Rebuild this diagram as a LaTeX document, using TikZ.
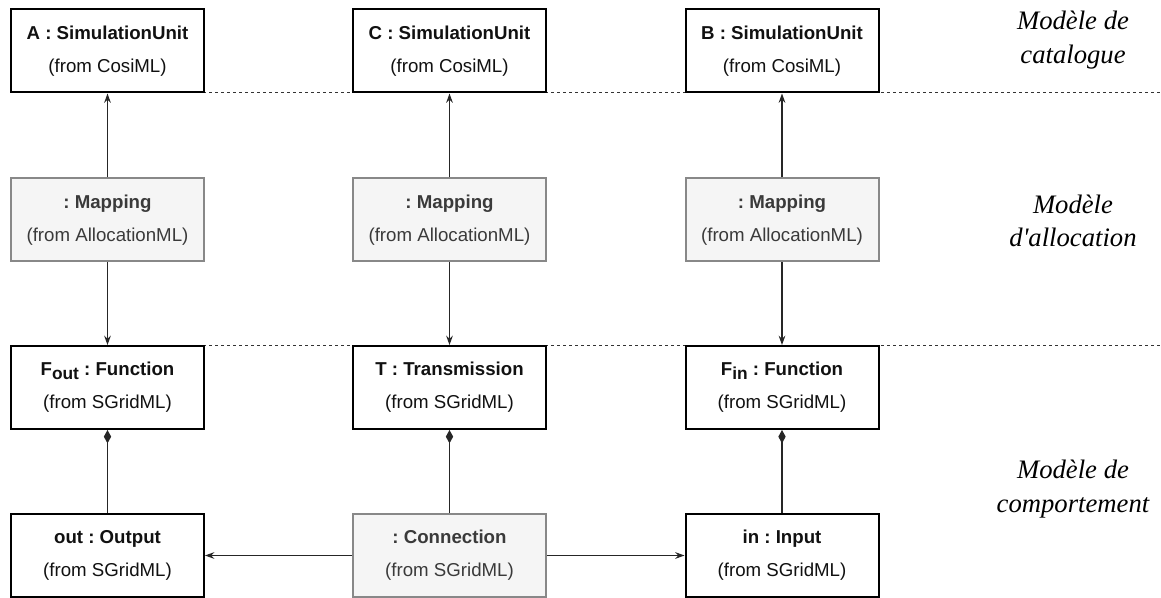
\documentclass[tikz,border=0pt]{standalone}
\usepackage{fontspec}
\setsansfont{Liberation Sans}
\newfontfamily\layerfont{Liberation Serif}
\usepackage{xcolor}
\usetikzlibrary{positioning, arrows.meta}
\definecolor{boxtext}{HTML}{111111}
\definecolor{mapfill}{HTML}{F5F5F5}
\definecolor{mapborder}{HTML}{888888}
\definecolor{maptext}{HTML}{3A3A3A}
\newcommand{\lowsub}[1]{\raisebox{-0.4ex}{\fontsize{13}{13}\selectfont #1}}
\frenchspacing

\begin{document}
\begin{tikzpicture}[x=0.75pt, y=-0.75pt,
    umlbox/.style={draw=black, line width=1.5pt, fill=white, text=boxtext,
      minimum width=144.75pt, minimum height=62.25pt, inner sep=0pt,
      align=center, font=\sffamily\fontsize{14}{24.75}\selectfont},
    greybox/.style={umlbox, draw=mapborder, fill=mapfill, text=maptext},
    link/.style={draw=black!85, line width=0.9pt, -{Stealth[length=7pt, width=5pt]}},
    partof/.style={draw=black!85, line width=0.9pt, -{Diamond[length=10pt, width=5.5pt]}},
    layersep/.style={draw=black!80, line width=0.6pt, dash pattern=on 2.5pt off 2pt},
    layername/.style={align=center, font=\layerfont\itshape\fontsize{20}{25}\selectfont}]
  \useasboundingbox[fill=white] (0,0) rectangle (1161,598);

  % layer borders
  \coordinate (sepAw) at (11,92);
  \coordinate (sepAe) at (1161,92);
  \coordinate (sepBw) at (11,345);
  \coordinate (sepBe) at (1161,345);
  \draw[layersep] (sepAw) -- (sepAe);
  \draw[layersep] (sepBw) -- (sepBe);

  % catalogue
  \node[umlbox] (unitA) at (107.5,51) {\textbf{A : SimulationUnit}\\(from CosiML)};
  \node[umlbox] (unitC) at (449.5,51) {\textbf{C : SimulationUnit}\\(from CosiML)};
  \node[umlbox] (unitB) at (782,51) {\textbf{B : SimulationUnit}\\(from CosiML)};

  % allocation
  \node[greybox] (mapA) at (107.5,220) {\textbf{: Mapping}\\(from AllocationML)};
  \node[greybox] (mapC) at (449.5,220) {\textbf{: Mapping}\\(from AllocationML)};
  \node[greybox] (mapB) at (782,220) {\textbf{: Mapping}\\(from AllocationML)};

  % behaviour
  \node[umlbox] (fout) at (107.5,387.5) {\textbf{F\lowsub{out} : Function}\\(from SGridML)};
  \node[umlbox] (trans) at (449.5,387.5) {\textbf{T : Transmission}\\(from SGridML)};
  \node[umlbox] (fin) at (782,387.5) {\textbf{F\lowsub{in} : Function}\\(from SGridML)};
  \node[umlbox] (outp) at (107.5,555.5) {\textbf{out : Output}\\(from SGridML)};
  \node[greybox] (conn) at (449.5,555.5) {\textbf{: Connection}\\(from SGridML)};
  \node[umlbox] (inp) at (782,555.5) {\textbf{in : Input}\\(from SGridML)};

  \draw[link] (mapA) -- (unitA);
  \draw[link] (mapC) -- (unitC);
  \draw[link] (mapB) -- (unitB);
  \draw[link] (mapA) -- (fout);
  \draw[link] (mapC) -- (trans);
  \draw[link] (mapB) -- (fin);
  \draw[partof] (outp) -- (fout);
  \draw[partof] (conn) -- (trans);
  \draw[partof] (inp) -- (fin);
  \draw[link] (conn) -- (outp);
  \draw[link] (conn) -- (inp);

  \node[layername] (lcat) at (1073,40) {Modèle de\\catalogue};
  \node[layername] (lalloc) at (1073,221) {Modèle\\d'allocation};
  \node[layername] (lbehav) at (1073,489) {Modèle de\\comportement};
\end{tikzpicture}
\end{document}
